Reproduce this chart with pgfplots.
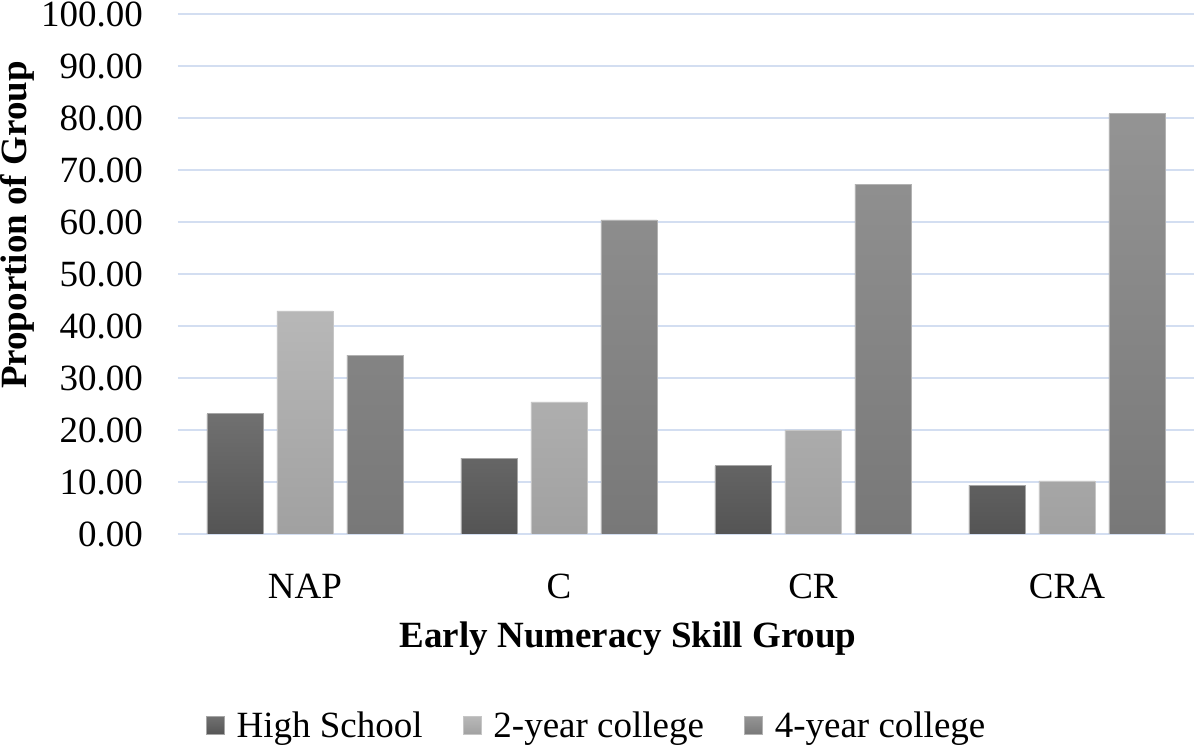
\documentclass[border=0pt]{standalone}
\usepackage{pgfplots}
\pgfplotsset{compat=1.18}
\usepackage{fontspec}
\setmainfont{Liberation Serif}

\definecolor{gridblue}{HTML}{D3DEF1}

\begin{document}
\begin{tikzpicture}[x=1pt,y=1pt]
  % fixes the page to the reference's 1200x748 frame (1px = 0.5pt)
  \useasboundingbox (-89,-107) rectangle (511,267);
  \begin{axis}[
      at={(0,0)}, anchor=south west,
      scale only axis,
      width=508pt, height=260pt,
      xmin=-0.5, xmax=3.5,
      ymin=0, ymax=100,
      ytick={0,10,...,100},
      xtick={0,1,2,3},
      xticklabels={NAP, C, CR, CRA},
      axis line style={draw=none},
      ymajorgrids,
      grid style={gridblue, line width=1pt},
      major tick length=0pt,
      font=\fontsize{18.5}{22}\selectfont,
      /pgf/number format/assume math mode=true,
      yticklabel={\pgfmathprintnumber[fixed,fixed zerofill,precision=2]{\tick}},
      yticklabel style={anchor=east, xshift=-14pt},
      xticklabel style={anchor=center, yshift=-26pt},
      xlabel={\textbf{Early Numeracy Skill Group}},
      xlabel style={at={(axis description cs:0.443,-0.202)}, anchor=center},
      ylabel={\textbf{Proportion of Group}},
      ylabel style={at={(axis description cs:-0.158,0.594)}, anchor=center},
      ybar=7pt, bar width=28pt,
      legend columns=3,
      legend style={at={(axis description cs:0.413,-0.369)}, anchor=center,
                    draw=none, fill=none,
                    /tikz/every odd column/.append style={column sep=4pt},
                    /tikz/every even column/.append style={column sep=18pt}},
      legend image code/.code={\fill[#1] (0pt,-4.5pt) rectangle (9pt,4.5pt);},
    ]
    \addplot[draw=gray!70, line width=0.4pt, top color=black!56, bottom color=black!67]
      coordinates {(0,23.1) (1,14.6) (2,13.1) (3,9.4)};
    \addplot[draw=gray!45, line width=0.4pt, top color=black!28, bottom color=black!37]
      coordinates {(0,42.9) (1,25.4) (2,20.0) (3,10.2)};
    \addplot[draw=gray!60, line width=0.4pt, top color=black!42, bottom color=black!53]
      coordinates {(0,34.4) (1,60.4) (2,67.3) (3,80.8)};
    \legend{High School, 2-year college, 4-year college}
  \end{axis}
\end{tikzpicture}
\end{document}
